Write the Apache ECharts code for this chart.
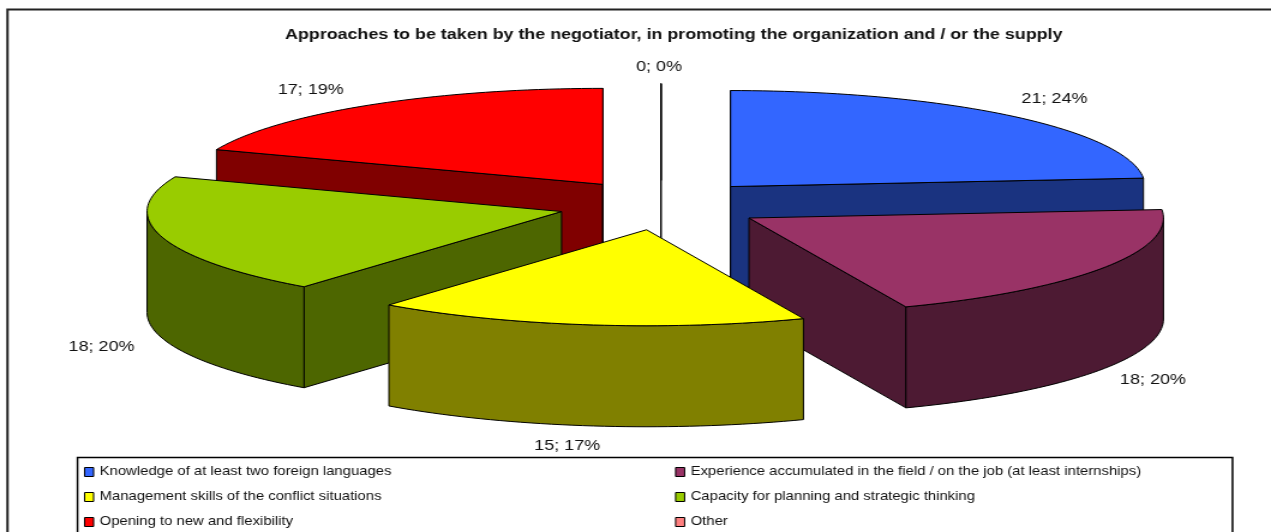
<!DOCTYPE html>
<html><head><meta charset="utf-8">
<style>html,body{margin:0;padding:0;background:#fff;overflow:hidden}#c{width:1059px;height:532px;transform:scaleX(1.2002);transform-origin:0 0}</style>
<script src="https://cdn.jsdelivr.net/npm/echarts@6/dist/echarts.min.js"></script>
</head><body><div id="c"></div>
<script>
const titleText = 'Approaches to be taken by the negotiator, in promoting the organization and / or the supply';
const categories = [
  'Knowledge of at least two foreign languages',
  'Experience accumulated in the field / on the job (at least internships)',
  'Management skills of the conflict situations',
  'Capacity for planning and strategic thinking',
  'Opening to new and flexibility',
  'Other'
];
const values = [21, 18, 15, 18, 17, 0];
const percents = [24, 20, 17, 20, 19, 0];
const topColors = ['#3366ff', '#993366', '#ffff00', '#99cc00', '#ff0000', '#ff8080'];
const sideColors = ['#1a3380', '#4d1a33', '#808000', '#4d6600', '#800000', '#804040'];

// The reference is horizontally stretched: the chart is laid out narrower and the page widens it.
const stretch = 1271 / 1059;
const X = x => x / stretch;

// Layout of the tilted pie
const cx = X(661), cy = 205, rx = X(414.5), ry = 96, explodeX = X(103), explodeY = 25, depth = 101;
const labelOffsets = [[44, -17], [50, 112], [-21, 121], [-60, 110], [-58, -15], [-2, -17]];

const total = values.reduce((a, b) => a + b, 0);
const rad = d => d * Math.PI / 180;
let acc = 0;
const slices = values.map(v => {
  const start = acc / total * 360; acc += v;
  const end = acc / total * 360;
  const mid = v === 0 ? 360 : (start + end) / 2;
  return {
    start, end, mid,
    tx: cx + explodeX * Math.sin(rad(mid)),
    ty: cy - explodeY * Math.cos(rad(mid))
  };
});
const rim = (s, a) => [s.tx + rx * Math.sin(rad(a)), s.ty - ry * Math.cos(rad(a))];
const arcPts = (s, a, b) => {
  const n = Math.max(1, Math.ceil(Math.abs(b - a) / 1.5)), p = [];
  for (let i = 0; i <= n; i++) p.push(rim(s, a + (b - a) * i / n));
  return p;
};
const down = p => [p[0], p[1] + depth];

function sliceItem(i) {
  const s = slices[i], kids = [];
  const empty = values[i] === 0;
  const style = c => ({ fill: c, stroke: '#000', lineWidth: empty ? 1.4 : 1, lineJoin: 'round' });
  const addRadial = a => {
    const e = rim(s, a), q = [[s.tx, s.ty], e, down(e), [s.tx, s.ty + depth]];
    kids.push({ type: 'polygon', shape: { points: q }, style: style(sideColors[i]) });
  };
  const eps = 1e-6;
  if (-Math.sin(rad(s.start)) >= -eps) addRadial(s.start);
  if (Math.abs(s.end - s.start) > eps && Math.sin(rad(s.end)) >= -eps) addRadial(s.end);
  const a = Math.max(s.start, 90), b = Math.min(s.end, 270);
  if (b > a) {
    const arc = arcPts(s, a, b);
    kids.push({ type: 'polygon', shape: { points: arc.concat(arc.map(down).reverse()) }, style: style(sideColors[i]) });
  }
  kids.push({
    type: 'polygon',
    shape: { points: [[s.tx, s.ty]].concat(arcPts(s, s.start, s.end)) },
    style: style(topColors[i])
  });
  return { type: 'group', children: kids };
}
function labelItem(i) {
  const s = slices[i], e = rim(s, s.mid), o = labelOffsets[i];
  return {
    type: 'text', x: e[0] + X(o[0]), y: e[1] + o[1], z2: 100,
    style: {
      text: values[i] + '; ' + percents[i] + '%',
      fill: '#111', font: '15px "Liberation Sans", Arial, sans-serif',
      align: 'center', verticalAlign: 'middle'
    }
  };
}
const drawRank = slices.map((s, i) => i).sort((p, q) => slices[p].ty - slices[q].ty);

const series = categories.map((name, i) => ({
  type: 'custom', name,
  coordinateSystem: 'none',
  silent: true, animation: false, clip: false,
  z: 2 + drawRank.indexOf(i),
  itemStyle: { color: topColors[i] },
  data: [[values[i]]],
  renderItem: () => ({ type: 'group', children: [sliceItem(i), labelItem(i)] })
}));

const legendBase = {
  orient: 'vertical', top: 466, itemWidth: X(9), itemHeight: 9, itemGap: 13,
  icon: 'rect', selectedMode: false, padding: 0,
  itemStyle: { borderColor: '#000', borderWidth: 1 },
  textStyle: { color: '#111', fontSize: 12.4, fontFamily: '"Liberation Sans", Arial, sans-serif', padding: [0, 0, 0, 0] }
};
const chart = echarts.init(document.getElementById('c'), null, { renderer: 'canvas', width: 1059, height: 532 });
chart.setOption({
  animation: false,
  backgroundColor: '#fff',
  title: {
    text: titleText, left: X(285), top: 27, padding: 0,
    textStyle: { color: '#111', fontSize: 14.9, fontWeight: 'bold', fontFamily: '"Liberation Sans", Arial, sans-serif' }
  },
  legend: [
    Object.assign({}, legendBase, { left: X(84), data: [categories[0], categories[2], categories[4]] }),
    Object.assign({}, legendBase, { left: X(675), data: [categories[1], categories[3], categories[5]] })
  ],
  graphic: [
    { type: 'polyline', silent: true, z: 1, shape: { points: [[X(7.5), 540], [X(7.5), 9.5], [1070, 9.5]] }, style: { stroke: '#222', lineWidth: 2, fill: null } },
    { type: 'rect', silent: true, z: 1, shape: { x: X(77.5), y: 457.5, width: X(1155), height: 90 }, style: { stroke: '#000', lineWidth: 1.5, fill: '#fff' } }
  ],
  series
});
</script></body></html>
